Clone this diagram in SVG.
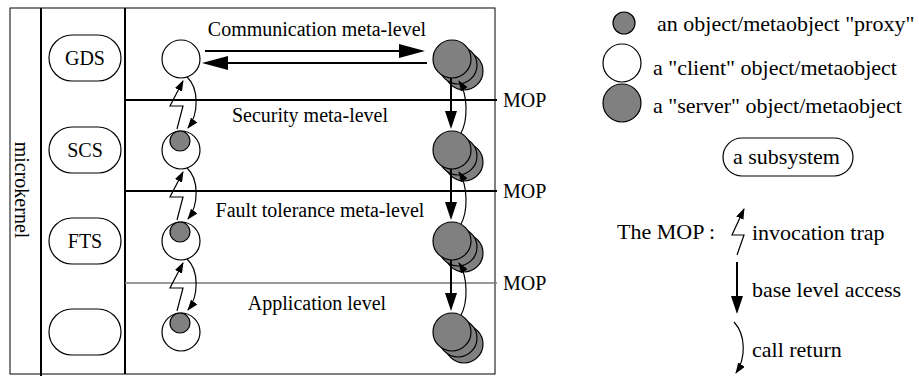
<svg xmlns="http://www.w3.org/2000/svg" xmlns:xlink="http://www.w3.org/1999/xlink" width="919" height="376" viewBox="0 0 919 376">
<style>
.t{font-family:"Liberation Serif","Times New Roman",serif;font-size:20px;fill:#000}
.lg{font-size:22px}
.mid{text-anchor:middle}
.box{fill:#fff;stroke:#000;stroke-width:1.2}
.gray{fill:#808080;stroke:#000;stroke-width:1.2}
.thick{stroke:#000;stroke-width:2;fill:none}
.thin{stroke:#000;stroke-width:1.2;fill:none}
.frame{stroke:#000;stroke-width:1;fill:none}
</style>
<defs>
<marker id="big" markerUnits="userSpaceOnUse" markerWidth="26" markerHeight="14" refX="13" refY="7" orient="auto"><path d="M0,0 L26,7 L0,14 z" fill="#000"/></marker>
<marker id="med" markerUnits="userSpaceOnUse" markerWidth="18" markerHeight="12" refX="9" refY="6" orient="auto"><path d="M0,0 L18,6 L0,12 z" fill="#000"/></marker>
<marker id="sm" markerUnits="userSpaceOnUse" markerWidth="11" markerHeight="8" refX="10" refY="4" orient="auto"><path d="M0,0 L11,4 L0,8 z" fill="#000"/></marker>
<g id="stack">
<circle class="gray" cx="12" cy="12" r="19"/>
<circle class="gray" cx="6" cy="6" r="19"/>
<circle class="gray" cx="0" cy="0" r="19"/>
</g>
<g id="clientp">
<circle class="box" cx="0" cy="0" r="19"/>
<circle class="gray" cx="-1" cy="-9" r="10"/>
</g>
</defs>

<g id="frame">
<rect class="frame" x="10" y="8" width="485" height="366"/>
<line class="thick" x1="41" y1="8" x2="41" y2="376"/>
<line class="thick" x1="125" y1="8" x2="125" y2="374"/>
<line class="thick" x1="125" y1="100" x2="497" y2="100"/>
<line class="thick" x1="125" y1="191" x2="497" y2="191"/>
<line stroke="#777" stroke-width="1.6" x1="125" y1="283" x2="497" y2="283"/>
<text class="t mid" transform="translate(15,190) rotate(90)" x="0" y="0">microkernel</text>
</g>

<g id="levels">
<text class="t mid" x="317" y="36">Communication meta-level</text>
<text class="t mid" x="310" y="122">Security meta-level</text>
<text class="t mid" x="320" y="217">Fault tolerance meta-level</text>
<text class="t mid" x="317" y="310">Application level</text>
<text class="t" x="503" y="107">MOP</text>
<text class="t" x="503" y="198">MOP</text>
<text class="t" x="503" y="290">MOP</text>
</g>

<g id="gds"><rect class="box" x="49" y="35" width="72" height="46" rx="23"/><text class="t mid" x="85" y="65">GDS</text></g>
<g id="scs"><rect class="box" x="49" y="127" width="72" height="46" rx="23"/><text class="t mid" x="85" y="157">SCS</text></g>
<g id="fts"><rect class="box" x="49" y="218" width="72" height="46" rx="23"/><text class="t mid" x="85" y="248">FTS</text></g>
<g id="app-subsystem"><rect class="box" x="49" y="309" width="72" height="46" rx="23"/></g>

<g id="client-comm"><circle class="box" cx="181" cy="59" r="19"/></g>
<g id="client-sec"><use xlink:href="#clientp" transform="translate(181,150)"/></g>
<g id="client-ft"><use xlink:href="#clientp" transform="translate(181,241)"/></g>
<g id="client-app"><use xlink:href="#clientp" transform="translate(181,332)"/></g>

<g id="server-comm"><use xlink:href="#stack" transform="translate(452,59)"/></g>
<g id="server-sec"><use xlink:href="#stack" transform="translate(452,150)"/></g>
<g id="server-ft"><use xlink:href="#stack" transform="translate(452,241)"/></g>
<g id="server-app"><use xlink:href="#stack" transform="translate(452,332)"/></g>

<g id="connectors">
<line class="thick" x1="205" y1="51" x2="412" y2="51" marker-end="url(#big)"/>
<line class="thick" x1="427" y1="63" x2="215" y2="63" marker-end="url(#big)"/>
<!-- client side: invocation traps and call returns -->
<polyline class="thin" points="177,129 183,106 170,106 183,81" marker-end="url(#sm)"/>
<path class="thin" d="M187,77 C199,88 199,114 188,128" marker-end="url(#sm)"/>
<polyline class="thin" points="177,220 183,197 170,197 183,172" marker-end="url(#sm)"/>
<path class="thin" d="M187,168 C199,179 199,205 188,219" marker-end="url(#sm)"/>
<polyline class="thin" points="177,311 183,288 170,288 183,263" marker-end="url(#sm)"/>
<path class="thin" d="M187,259 C199,270 199,296 188,310" marker-end="url(#sm)"/>
<!-- server side: base level access and call returns -->
<line class="thick" x1="451" y1="78" x2="451" y2="120" marker-end="url(#med)"/>
<path class="thin" d="M461,133 C468,120 468,95 459,81" marker-end="url(#sm)"/>
<line class="thick" x1="451" y1="169" x2="451" y2="211" marker-end="url(#med)"/>
<path class="thin" d="M461,224 C468,211 468,186 459,172" marker-end="url(#sm)"/>
<line class="thick" x1="451" y1="260" x2="451" y2="302" marker-end="url(#med)"/>
<path class="thin" d="M461,315 C468,302 468,277 459,263" marker-end="url(#sm)"/>
</g>

<g id="legend">
<circle class="gray" cx="624" cy="23" r="11"/>
<text class="t lg" x="657" y="31">an object/metaobject "proxy"</text>
<circle class="box" cx="622" cy="63" r="19"/>
<text class="t lg" x="653" y="75">a "client" object/metaobject</text>
<circle class="gray" cx="622" cy="103" r="19"/>
<text class="t lg" x="653" y="113">a "server" object/metaobject</text>
<rect class="box" x="723" y="138" width="130" height="38" rx="19"/>
<text class="t lg" x="733" y="164">a subsystem</text>
<text class="t lg" x="617" y="239">The MOP :</text>
<polyline class="thin" points="737,255 744,235 732,235 744,209" marker-end="url(#sm)"/>
<text class="t lg" x="752" y="240">invocation trap</text>
<line class="thick" x1="737" y1="262" x2="737" y2="305" marker-end="url(#med)"/>
<text class="t lg" x="752" y="297">base level access</text>
<path class="thin" d="M734,322 C746,335 746,358 736,373" marker-end="url(#sm)"/>
<text class="t lg" x="752" y="357">call return</text>
</g>
</svg>
